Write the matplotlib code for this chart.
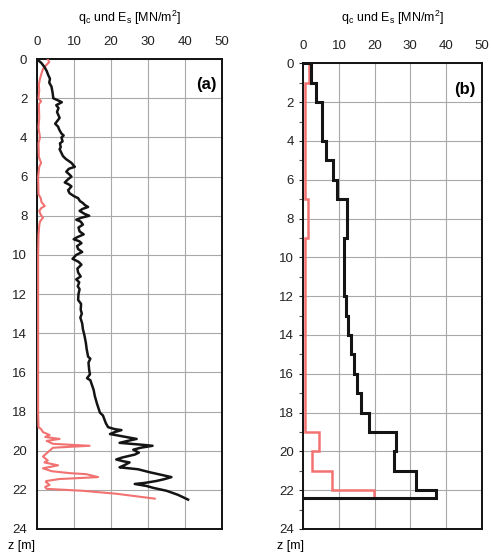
import matplotlib.pyplot as plt
import numpy as np

plt.rcParams["font.family"] = ["Liberation Sans", "DejaVu Sans"]
plt.rcParams["mathtext.fontset"] = "custom"
plt.rcParams["mathtext.rm"] = "Liberation Sans"

# panel (a): measured profile, depth z [m] and value [MN/m2]
za_qc = [0.0, 0.2, 0.4, 0.6, 0.8, 1.0, 1.2, 1.4, 1.7, 2.0, 2.1, 2.2, 2.35, 2.5, 2.7, 3.0, 3.15, 3.3,
         3.45, 3.6, 3.8, 3.9, 4.0, 4.2, 4.3, 4.5, 4.6, 4.8, 4.95, 5.1, 5.3, 5.5, 5.6, 5.75, 5.9, 6.0,
         6.15, 6.3, 6.4, 6.5, 6.7, 6.85, 7.0, 7.1, 7.25, 7.35, 7.45, 7.55, 7.65, 7.75, 7.9, 8.0, 8.1,
         8.2, 8.3, 8.45, 8.6, 8.8, 8.95, 9.1, 9.2, 9.3, 9.4, 9.55, 9.7, 9.85, 10.0, 10.2, 10.35, 10.5,
         10.7, 10.9, 11.1, 11.25, 11.4, 11.6, 11.75, 12.0, 12.3, 12.5, 12.8, 13.0, 13.2, 13.5, 13.8,
         14.1, 14.5, 14.8, 15.2, 15.3, 15.5, 15.9, 16.1, 16.3, 16.4, 16.9, 17.2, 17.6, 18.06, 18.2,
         18.45, 18.6, 18.8, 18.9, 18.95, 19.05, 19.15, 19.3, 19.4, 19.5, 19.6, 19.7, 19.75, 19.85,
         19.95, 20.1, 20.2, 20.35, 20.45, 20.55, 20.6, 20.75, 20.85, 20.95, 21.1, 21.25, 21.35, 21.45,
         21.55, 21.65, 21.7, 21.8, 21.9, 22.05, 22.25, 22.5]
qc_a = [0.0, 1.2, 2.0, 2.6, 3.0, 3.5, 3.3, 3.9, 4.2, 4.4, 5.6, 6.7, 5.2, 5.8, 5.4, 6.1, 5.5, 4.9,
        5.7, 6.0, 6.6, 7.2, 6.6, 6.9, 6.2, 6.4, 6.1, 6.6, 7.0, 7.8, 9.3, 10.2, 8.6, 7.9, 8.8, 9.3,
        8.3, 7.5, 8.6, 9.3, 8.4, 8.8, 10.0, 11.1, 11.6, 12.4, 12.9, 13.8, 12.3, 11.5, 12.8, 14.1, 12.0,
        10.6, 11.8, 12.4, 11.2, 11.5, 12.6, 10.8, 9.9, 11.4, 12.0, 10.8, 11.1, 12.2, 10.6, 9.6, 11.2, 12.0,
        10.9, 11.1, 11.8, 10.6, 11.4, 11.0, 11.5, 11.2, 11.1, 11.9, 11.8, 12.1, 11.7, 12.2, 12.4,
        12.8, 13.2, 13.4, 13.8, 14.4, 13.9, 14.1, 14.3, 13.5, 14.4, 15.3, 15.6, 16.2, 17.0, 17.8,
        18.3, 18.6, 19.2, 21.0, 22.8, 21.0, 19.7, 24.0, 26.9, 24.5, 22.3, 28.5, 31.2, 28.0,
        26.0, 27.5, 26.4, 23.0, 21.4, 23.5, 25.0, 23.5, 22.3, 27.3, 30.4, 34.0, 36.3, 34.5,
        32.2, 29.0, 26.4, 29.5, 31.4, 35.0, 38.0, 40.8]

za_es = [0.0, 0.15, 0.3, 0.5, 0.8, 1.0, 1.3, 1.6, 2.0, 2.15, 2.3, 3.0, 3.5, 4.0, 4.3, 5.0, 5.3, 5.5,
         6.0, 6.9, 7.1, 7.3, 7.5, 7.6, 7.75, 7.95, 8.1, 8.3, 8.5, 9.0, 10.0, 12.0, 14.0, 16.0, 18.0,
         18.8, 18.9, 19.05, 19.2, 19.3, 19.4, 19.5, 19.65, 19.75, 19.85, 20.0, 20.15, 20.3, 20.5, 20.6,
         20.75, 20.9, 21.05, 21.15, 21.2, 21.35, 21.45, 21.55, 21.6, 21.75, 21.85, 21.95, 22.05, 22.2,
         22.45]
es_a = [2.9, 3.3, 2.5, 1.6, 1.1, 0.8, 0.5, 0.6, 0.4, 1.1, 0.5, 0.6, 0.4, 0.8, 0.4, 0.5, 1.1, 0.6,
        0.3, 0.4, 1.0, 1.2, 2.1, 1.2, 0.6, 1.0, 1.6, 0.8, 0.6, 0.4, 0.3, 0.3, 0.3, 0.3, 0.3,
        0.4, 1.1, 1.6, 3.4, 2.2, 6.1, 2.6, 4.3, 14.2, 4.3, 3.4, 2.5, 1.6, 2.9, 2.0,
        5.7, 1.6, 4.0, 9.0, 13.3, 16.5, 6.0, 2.5, 2.4, 3.4, 2.2, 2.6, 12.4, 21.4,
        31.8]

# panel (b): layered idealisation
zb_qc_edges = [0, 1, 2, 4, 5, 6, 7, 9, 11, 12, 13, 14, 15, 16, 17, 18, 19, 20, 21, 22, 22.4]
qc_b = [2.2, 3.6, 5.2, 6.4, 8.4, 9.5, 12.2, 11.5, 11.4, 12.0, 12.6, 13.4, 14.3, 15.0, 16.1,
        18.3, 26.0, 25.5, 31.6, 37.1]
zb_es_edges = [0, 1, 7, 9, 19, 20, 21, 22, 22.4]
es_b = [1.6, 0.4, 1.2, 0.4, 4.4, 2.4, 8.1, 19.8]

x_ticks = [0, 10, 20, 30, 40, 50]
z_ticks = list(range(0, 25, 2))
title = "q$_\\mathregular{c}$ und E$_\\mathregular{s}$ [MN/m$^\\mathregular{2}$]"

black = "#141414"
red = "#f27272"

fig = plt.figure(figsize=(4.91, 5.56), dpi=100)
ax_a = fig.add_axes([0.0754, 0.0486, 0.377, 0.845])
ax_b = fig.add_axes([0.6177, 0.0486, 0.3633, 0.8375])

for ax in (ax_a, ax_b):
    ax.set_xlim(0, 50)
    ax.set_ylim(24, 0)
    ax.set_xticks(x_ticks)
    ax.set_yticks(z_ticks)
    ax.xaxis.tick_top()
    ax.tick_params(axis="both", labelsize=9.5, length=0, colors="#222222")
    ax.tick_params(axis="x", pad=8)
    ax.tick_params(axis="y", pad=7)
    ax.grid(True, color="#a8a8a8", linewidth=0.8)
    ax.set_axisbelow(True)
    for s in ax.spines.values():
        s.set_linewidth(1.4)
        s.set_color("#111111")

ax_b.set_yticks(range(1, 24, 2), minor=True)
ax_b.tick_params(axis="y", which="minor", length=3, width=0.8, colors="#555555")
ax_b.tick_params(axis="y", which="major", length=3, width=0.8, pad=4)

ax_a.plot(es_a, za_es, color=red, linewidth=1.5, zorder=3)
ax_a.plot(qc_a, za_qc, color=black, linewidth=1.8, zorder=4)

ax_b.stairs(es_b, zb_es_edges, orientation="horizontal", baseline=None,
            color=red, linewidth=1.8, zorder=3)
ax_b.stairs(qc_b, zb_qc_edges, orientation="horizontal", baseline=0,
            color=black, linewidth=2.2, zorder=4)

ax_a.text(48.5, 1.3, "(a)", ha="right", va="center", fontsize=12, fontweight="bold")
ax_b.text(48.4, 1.37, "(b)", ha="right", va="center", fontsize=12, fontweight="bold")

fig.text(0.264, 0.968, title, ha="center", va="center", fontsize=9)
fig.text(0.799, 0.968, title, ha="center", va="center", fontsize=9)
fig.text(0.016, 0.008, "z [m]", ha="left", va="bottom", fontsize=9)
fig.text(0.564, 0.008, "z [m]", ha="left", va="bottom", fontsize=9)

fig.savefig("out.png", dpi=100)
